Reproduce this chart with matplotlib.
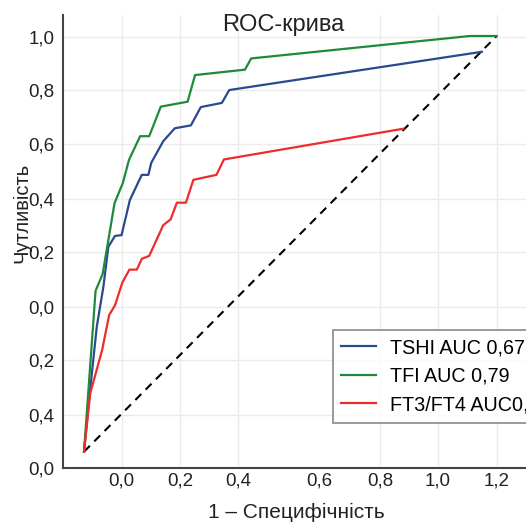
import matplotlib
matplotlib.use("Agg")
import matplotlib.pyplot as plt
import numpy as np

plt.rcParams['font.family'] = ['Liberation Sans', 'DejaVu Sans']

# ROC data (FPR, TPR)
tshi_fpr = [0.0, 0.013, 0.031, 0.047, 0.059, 0.075, 0.091, 0.111, 0.140, 0.156, 0.163,
            0.192, 0.220, 0.259, 0.283, 0.334, 0.352, 0.964]
tshi_tpr = [0.0, 0.132, 0.301, 0.397, 0.493, 0.519, 0.521, 0.605, 0.666, 0.666, 0.695,
            0.747, 0.778, 0.785, 0.829, 0.839, 0.870, 0.962]

tfi_fpr = [0.0, 0.028, 0.045, 0.059, 0.074, 0.094, 0.109, 0.136, 0.158, 0.186, 0.251,
           0.269, 0.390, 0.405, 0.935, 1.0]
tfi_tpr = [0.0, 0.387, 0.427, 0.509, 0.598, 0.646, 0.702, 0.759, 0.759, 0.830, 0.842,
           0.906, 0.919, 0.946, 1.0, 1.0]

ft_fpr = [0.0, 0.015, 0.044, 0.061, 0.075, 0.093, 0.110, 0.128, 0.140, 0.158, 0.192,
          0.210, 0.225, 0.247, 0.265, 0.321, 0.339, 0.774]
ft_tpr = [0.0, 0.140, 0.245, 0.329, 0.352, 0.407, 0.438, 0.438, 0.464, 0.471, 0.545,
          0.559, 0.599, 0.599, 0.654, 0.666, 0.703, 0.777]

diag = [0.0, 1.0]

series_labels = ["TSHI AUC 0,67", "TFI AUC 0,79", "FT3/FT4 AUC0,61"]
title = "ROC-крива"
xlabel = "1 – Специфічність"
ylabel = "Чутливість"

xtick_pos = [0.0913, 0.2326, 0.3732, 0.5694, 0.7172, 0.8578, 1.0007]
xtick_labels = ["0,0", "0,2", "0,4", "0,6", "0,8", "1,0", "1,2"]
ytick_pos = [0.9976, 0.8701, 0.7402, 0.6079, 0.4804, 0.3481, 0.2206, 0.0883, -0.0392]
ytick_labels = ["1,0", "0,8", "0,6", "0,4", "0,2", "0,0", "0,2", "0,4", "0,0"]

W, H = 526, 523
fig = plt.figure(figsize=(W / 100, H / 100), dpi=100)
ax = fig.add_axes([63 / W, 1 - 468 / H, 1 - 63 / W, (468 - 15) / H])

blue = '#2a4a8e'
green = '#1f8a3b'
red = '#ef2b2b'

ax.plot(diag, diag, color='black', lw=1.5, ls=(0, (4, 3)), zorder=2)
l1, = ax.plot(tshi_fpr, tshi_tpr, color=blue, lw=1.6, zorder=3)
l2, = ax.plot(tfi_fpr, tfi_tpr, color=green, lw=1.6, zorder=3)
l3, = ax.plot(ft_fpr, ft_tpr, color=red, lw=1.6, zorder=3)

ax.set_xlim(-0.0509, (526 - 84) / 412.7)
ax.set_ylim(-0.0392, 1.0505)

ax.set_xticks(xtick_pos)
ax.set_xticklabels(xtick_labels)
ax.set_yticks(ytick_pos)
ax.set_yticklabels(ytick_labels)
ax.tick_params(axis='both', length=0, labelsize=13.5, colors='#222222')
ax.tick_params(axis='x', pad=3)
ax.tick_params(axis='y', pad=6)

ax.grid(True, color='#ebebeb', lw=1.0, zorder=0)
ax.set_axisbelow(True)
ax.get_xgridlines()[3].set_visible(False)

for s in ['top', 'right']:
    ax.spines[s].set_visible(False)
for s in ['left', 'bottom']:
    ax.spines[s].set_color('#444444')
    ax.spines[s].set_linewidth(1.5)

leg = fig.legend([l1, l2, l3], series_labels, loc='upper left',
                 bbox_to_anchor=(332.7 / W, 1 - 330 / H), borderaxespad=0,
                 fontsize=14.2, frameon=True, fancybox=False, handlelength=1.8,
                 handletextpad=0.68, labelspacing=0.48, borderpad=0.42)
leg.get_frame().set_edgecolor('#777777')
leg.get_frame().set_linewidth(1.3)

fig.text(283 / W, 1 - 25 / H, title, ha='center', va='center', fontsize=17, color='#222222')
fig.text(296 / W, 1 - 512 / H, xlabel, ha='center', va='center', fontsize=15, color='#222222')
fig.text(22 / W, 1 - 213 / H, ylabel, ha='center', va='center', rotation=90, fontsize=14.5,
         color='#222222')

fig.savefig('out.png', dpi=100)
